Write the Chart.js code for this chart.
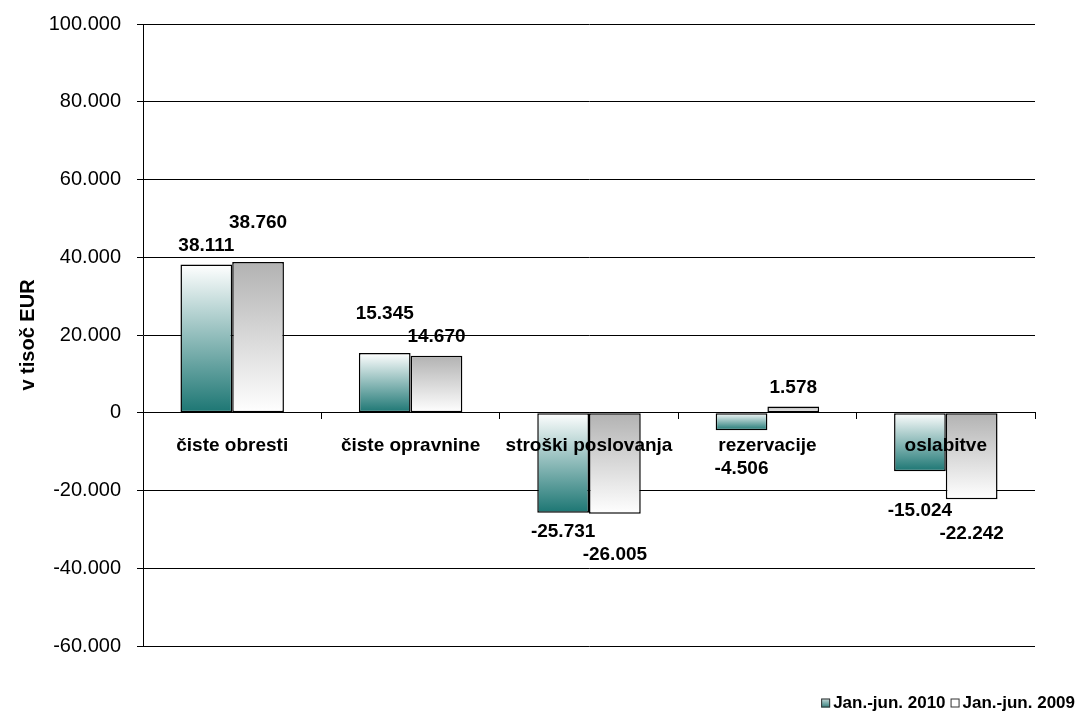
<!DOCTYPE html>
<html>
<head>
<meta charset="utf-8">
<script src="https://cdn.jsdelivr.net/npm/chart.js@4/dist/chart.umd.min.js"></script>
<style>
  html, body { margin: 0; padding: 0; background: #fff; }
  #wrap { width: 1081px; height: 716px; }
</style>
</head>
<body>
<div id="wrap"><canvas id="chart"></canvas></div>
<script>
// -----------------------------
// DATA (v tisoč EUR)
// -----------------------------
const categories = ["čiste obresti", "čiste opravnine", "stroški poslovanja", "rezervacije", "oslabitve"];
const seriesNames = ["Jan.-jun. 2010", "Jan.-jun. 2009"];
const values2010 = [38111, 15345, -25731, -4506, -15024];
const values2009 = [38760, 14670, -26005, 1578, -22242];
const yTicks = [-60000, -40000, -20000, 0, 20000, 40000, 60000, 80000, 100000];

// -----------------------------
// HELPERS
// -----------------------------
const FONT = '"Liberation Sans", Arial, sans-serif';
const LABEL_FONT = "bold 19px " + FONT;

// 38111 -> "38.111"
function fmt(v) {
  const s = String(Math.abs(v)).replace(/\B(?=(\d{3})+(?!\d))/g, ".");
  return v < 0 ? "-" + s : s;
}

// gradient runs from the bar's top edge to its bottom edge, whatever the sign
const stops = [
  ["#ffffff", "#1c7673"],  // 2010: white -> teal
  ["#b2b2b2", "#ffffff"]   // 2009: grey -> white
];
function barFill(i) {
  return (c) => {
    const chart = c.chart;
    const y = chart.scales.y;
    if (!y || c.raw == null) return stops[i][1];
    const p = y.getPixelForValue(c.raw);
    const p0 = y.getPixelForValue(0);
    if (!isFinite(p) || !isFinite(p0) || p === p0) return stops[i][1];
    const g = chart.ctx.createLinearGradient(0, Math.min(p, p0), 0, Math.max(p, p0));
    g.addColorStop(0, stops[i][0]);
    g.addColorStop(1, stops[i][1]);
    return g;
  };
}

// -----------------------------
// VALUE LABELS
// label goes just past the bar end; if it hits a bar, a category name or
// another label it is pushed further out (shorter bars are placed first)
// -----------------------------
const valueLabels = {
  id: "valueLabels",
  afterDatasetsDraw(chart) {
    const ctx = chart.ctx;
    const xs = chart.scales.x;
    ctx.save();
    ctx.font = LABEL_FONT;
    const h = 22;
    const obstacles = [];
    const rect = (cx, cy, w, hh) => ({ x1: cx - w / 2, x2: cx + w / 2, y1: cy - hh / 2, y2: cy + hh / 2 });
    const hit = (a, b) => a.x1 < b.x2 && b.x1 < a.x2 && a.y1 < b.y2 && b.y1 < a.y2;

    // category names sit just under the zero line
    const nameY = chart.scales.y.getPixelForValue(0) + 6 + 16 + 11;
    categories.forEach((c, j) => obstacles.push(rect(xs.getPixelForValue(j), nameY, ctx.measureText(c).width, h)));

    const items = [];
    chart.data.datasets.forEach((ds, i) => {
      chart.getDatasetMeta(i).data.forEach((bar, j) => {
        obstacles.push({ x1: bar.x - bar.width / 2, x2: bar.x + bar.width / 2,
                         y1: Math.min(bar.y, bar.base), y2: Math.max(bar.y, bar.base) });
        items.push({ v: ds.data[j], bar, j });
      });
    });
    items.sort((a, b) => a.j - b.j || Math.abs(a.v) - Math.abs(b.v));

    ctx.fillStyle = "#000";
    ctx.textAlign = "center";
    ctx.textBaseline = "middle";
    items.forEach(({ v, bar }) => {
      const t = fmt(v);
      const w = ctx.measureText(t).width;
      const up = v >= 0;
      let cy = up ? bar.y - 8 - h / 2 : bar.y + 8 + h / 2;
      for (let k = 0; k < 10; k++) {
        const r = rect(bar.x, cy, w, h);
        const o = obstacles.find(ob => hit(r, ob));
        if (!o) break;
        cy = up ? o.y1 - 1 - h / 2 : o.y2 + 1 + h / 2;
      }
      obstacles.push(rect(bar.x, cy, w, h));
      ctx.fillText(t, bar.x, cy);
    });
    ctx.restore();
  }
};

// -----------------------------
// LEGEND (bottom right, small boxes)
// -----------------------------
const legendFills = [["#c9dcdb", "#2f7f7c"], ["#ffffff", "#ffffff"]];
const cornerLegend = {
  id: "cornerLegend",
  afterDraw(chart) {
    const ctx = chart.ctx;
    ctx.save();
    ctx.font = "bold 17px " + FONT;
    ctx.textBaseline = "middle";
    ctx.textAlign = "left";
    const cy = 703;
    let x = chart.width - 6;
    // lay out right to left
    const parts = seriesNames.map((n, i) => ({ n, i, w: ctx.measureText(n).width }));
    for (let k = parts.length - 1; k >= 0; k--) {
      const p = parts[k];
      x -= p.w;
      ctx.fillStyle = "#000";
      ctx.fillText(p.n, x, cy);
      const bx = x - 12;
      const g = ctx.createLinearGradient(0, cy - 4.5, 0, cy + 4.5);
      g.addColorStop(0, legendFills[p.i][0]);
      g.addColorStop(1, legendFills[p.i][1]);
      ctx.fillStyle = g;
      ctx.fillRect(bx, cy - 4.5, 9, 9);
      ctx.strokeStyle = "#333";
      ctx.lineWidth = 1;
      ctx.strokeRect(bx + 0.5, cy - 4, 8, 8);
      x = bx - 5;
    }
    ctx.restore();
  }
};

// -----------------------------
// CHART
// -----------------------------
new Chart(document.getElementById("chart"), {
  type: "bar",
  data: {
    labels: categories,
    datasets: [
      {
        label: seriesNames[0],
        data: values2010,
        backgroundColor: barFill(0),
        borderColor: "#000",
        borderWidth: 1.5,
        borderSkipped: false
      },
      {
        label: seriesNames[1],
        data: values2009,
        backgroundColor: barFill(1),
        borderColor: "#000",
        borderWidth: 1.5,
        borderSkipped: false
      }
    ]
  },
  options: {
    responsive: true,
    maintainAspectRatio: false,
    animation: false,
    datasets: { bar: { categoryPercentage: 0.58, barPercentage: 1.0 } },
    layout: { padding: { left: 16, right: 46, top: 24, bottom: 70 } },
    plugins: {
      tooltip: { enabled: false },
      legend: { display: false }
    },
    scales: {
      x: {
        position: { y: 0 },
        grid: { display: true, drawOnChartArea: false, drawTicks: true, tickLength: 6, color: "#000" },
        border: { display: true, color: "#000", width: 1, z: 1 },
        ticks: { z: 1, color: "#000", font: { family: FONT, size: 19, weight: "bold" }, padding: 16, maxRotation: 0, autoSkip: false }
      },
      y: {
        min: -60000,
        max: 100000,
        afterBuildTicks: (axis) => { axis.ticks = yTicks.map(v => ({ value: v })); },
        afterFit: (axis) => { axis.width = 127; axis.paddingTop = 0; axis.paddingBottom = 0; },
        grid: { color: "#000", lineWidth: 1, drawTicks: true, tickLength: 6 },
        border: { display: true, color: "#000", width: 1 },
        ticks: { color: "#000", font: { family: FONT, size: 20 }, padding: 16, callback: (v) => fmt(v) },
        title: {
          display: true,
          text: "v tisoč EUR",
          color: "#000",
          font: { family: FONT, size: 20, weight: "bold" },
          padding: { top: 0, bottom: 0 }
        }
      }
    }
  },
  plugins: [valueLabels, cornerLegend]
});
</script>
</body>
</html>
